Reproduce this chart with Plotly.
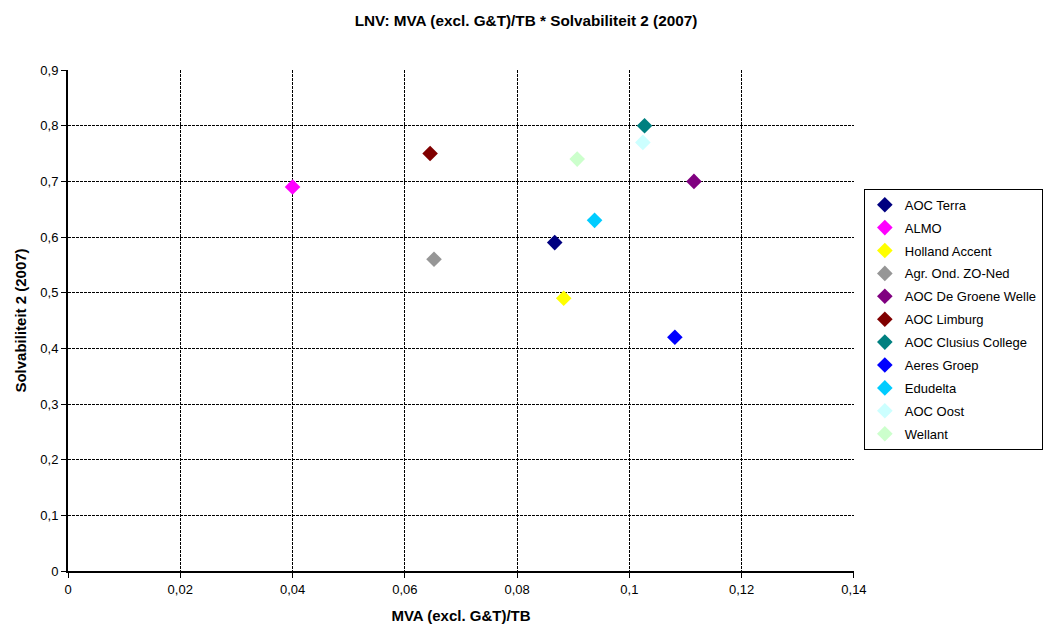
import plotly.graph_objects as go

names = ["AOC Terra", "ALMO", "Holland Accent", "Agr. Ond. ZO-Ned", "AOC De Groene Welle",
         "AOC Limburg", "AOC Clusius College", "Aeres Groep", "Edudelta", "AOC Oost", "Wellant"]
mva = [0.0867, 0.0400, 0.0883, 0.0652, 0.1115, 0.0645, 0.1027, 0.1081, 0.0938, 0.1024, 0.0907]
solv = [0.59, 0.69, 0.49, 0.56, 0.70, 0.75, 0.80, 0.42, 0.63, 0.77, 0.74]
colors = ["#000080", "#FF00FF", "#FFFF00", "#969696", "#800080", "#800000",
          "#008080", "#0000FF", "#00CCFF", "#CCFFFF", "#CCFFCC"]

FONT = "Liberation Sans, Arial"
fig = go.Figure()
for n, x, y, c in zip(names, mva, solv, colors):
    fig.add_trace(go.Scatter(x=[x], y=[y], mode="markers", name=n, legendgroup=n,
                             marker=dict(symbol="diamond", size=12, color=c,
                                         line=dict(width=0))))

fig.update_layout(
    width=1052, height=630,
    paper_bgcolor="white", plot_bgcolor="white",
    separators=", ",
    font=dict(family=FONT, size=13, color="black"),
    title=dict(text="<b>LNV: MVA (excl. G&T)/TB * Solvabiliteit 2 (2007)</b>",
               x=0.5, xanchor="center", xref="container",
               y=0.968, yanchor="middle", yref="container",
               font=dict(family=FONT, size=15.3, color="black")),
    margin=dict(l=68, r=198, t=70, b=59, autoexpand=False),
    showlegend=True,
    legend=dict(x=1.0125, xanchor="left", y=0.763, yanchor="top",
                bordercolor="black", borderwidth=1,
                font=dict(family=FONT, size=13, color="black"),
                tracegroupgap=3, itemsizing="constant", itemwidth=30),
    xaxis=dict(range=[0, 0.14001], dtick=0.02, tick0=0, showgrid=True,
               gridcolor="black", griddash="3px,1px", gridwidth=1,
               showline=True, linecolor="black", linewidth=2, mirror=False,
               ticks="outside", ticklen=5, tickcolor="black", zeroline=False,
               automargin=False,
               tickfont=dict(family=FONT, size=13, color="black"),
               title=dict(text="<b>MVA (excl. G&T)/TB</b>", standoff=15,
                          font=dict(family=FONT, size=15, color="black"))),
    yaxis=dict(range=[0, 0.9001], dtick=0.1, tick0=0, showgrid=True,
               gridcolor="black", griddash="3px,1px", gridwidth=1,
               showline=True, linecolor="black", linewidth=2, mirror=False,
               ticks="outside", ticklen=5, tickcolor="black", zeroline=False,
               automargin=False,
               tickfont=dict(family=FONT, size=13, color="black"),
               title=dict(text="<b>Solvabiliteit 2 (2007)</b>", standoff=10,
                          font=dict(family=FONT, size=15, color="black"))),
)

fig.write_html("out.html", config={"displayModeBar": False},
               post_script="document.body.style.margin='0px';")
